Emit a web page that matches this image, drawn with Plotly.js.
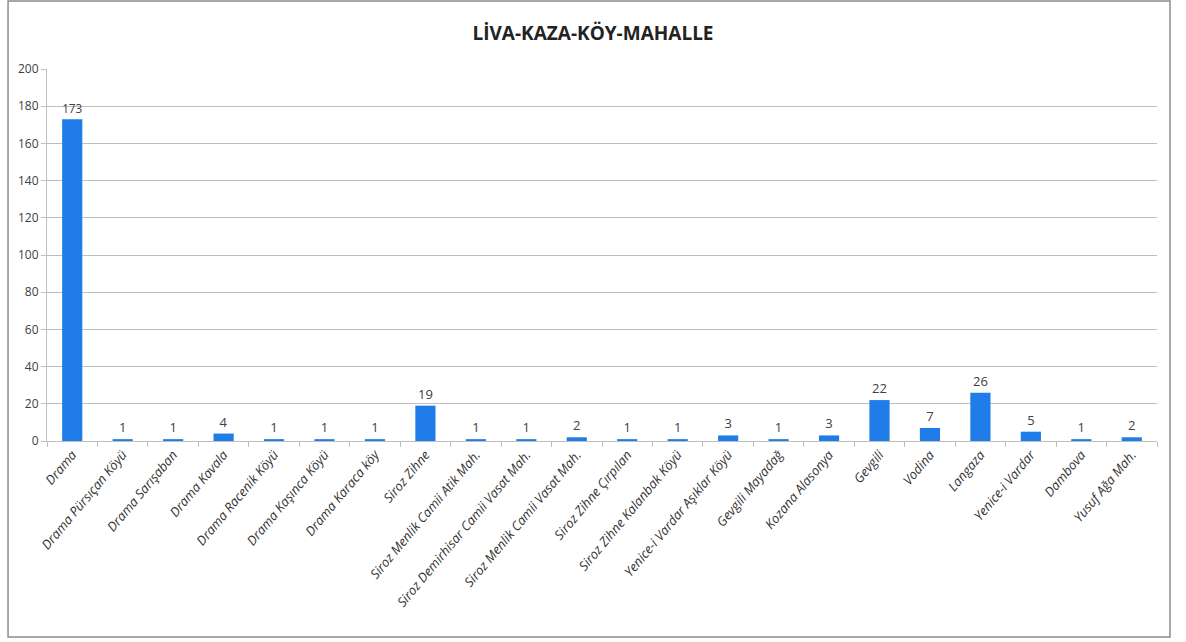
<!DOCTYPE html>
<html>
<head>
<meta charset="utf-8">
<script src="https://cdn.plot.ly/plotly-3.0.1.min.js"></script>
<style>html,body{margin:0;padding:0;background:#fff;}#chart{width:1186px;height:642px;}</style>
</head>
<body>
<div id="chart"></div>
<script>
const categories = [
  "Drama", "Drama Pürsıçan Köyü", "Drama Sarışaban", "Drama Kavala",
  "Drama Racenik Köyü", "Drama Kaşınca Köyü", "Drama Karaca köy", "Siroz Zihne",
  "Siroz Menlik Camii Atik Mah.", "Siroz Demirhisar Camii Vasat Mah.",
  "Siroz Menlik Camii Vasat Mah.", "Siroz Zihne Çırpılan", "Siroz Zihne Kalanbak Köyü",
  "Yenice-i Vardar Aşıklar Köyü", "Gevgili Mayadağ", "Kozana Alasonya", "Gevgili",
  "Vodina", "Langaza", "Yenice-i Vardar", "Dambova", "Yusuf Ağa Mah."
];
const values = [173, 1, 1, 4, 1, 1, 1, 19, 1, 1, 2, 1, 1, 3, 1, 3, 22, 7, 26, 5, 1, 2];
const yTicks = [0, 20, 40, 60, 80, 100, 120, 140, 160, 180, 200];

const trace = {
  type: 'bar',
  x: categories,
  y: values,
  text: values.map(String),
  textposition: 'outside',
  cliponaxis: false,
  textfont: {family: 'Open Sans, sans-serif', size: 13, color: '#404040'},
  marker: {color: '#1f7ce8'},
  hoverinfo: 'x+y'
};

const layout = {
  width: 1186, height: 642,
  margin: {l: 47, r: 29, t: 69, b: 201},
  paper_bgcolor: '#ffffff', plot_bgcolor: '#ffffff',
  bargap: 0.6,
  showlegend: false,
  title: {
    text: '<b>LİVA-KAZA-KÖY-MAHALLE</b>',
    font: {family: 'Open Sans, sans-serif', size: 19, color: '#222222'},
    x: 0.5, xanchor: 'center', y: 0.948, yanchor: 'middle'
  },
  font: {family: 'Open Sans, sans-serif', size: 13, color: '#404040'},
  xaxis: {
    type: 'category',
    tickangle: -50,
    tickson: 'boundaries',
    ticks: 'outside', ticklen: 5, tickcolor: '#bfbfbf',
    showline: true, linecolor: '#bfbfbf', linewidth: 1,
    showgrid: false,
    tickfont: {family: 'Open Sans, sans-serif', size: 13, color: '#333333', style: 'italic'},
    fixedrange: true
  },
  yaxis: {
    range: [0, 200],
    tickvals: yTicks,
    ticktext: yTicks.map(String),
    ticks: 'outside', ticklen: 5, tickcolor: '#bfbfbf',
    showline: true, linecolor: '#bfbfbf', linewidth: 1,
    showgrid: true, gridcolor: '#bfbfbf', gridwidth: 1,
    zeroline: false,
    tickfont: {family: 'Open Sans, sans-serif', size: 12, color: '#404040'},
    fixedrange: true
  },
  shapes: [{
    type: 'rect', xref: 'paper', yref: 'paper',
    x0: -0.0351, x1: 1.0117, y0: -0.527, y1: 1.183,
    line: {color: '#8c8c8c', width: 1.5}, fillcolor: 'rgba(0,0,0,0)', layer: 'below'
  }]
};

Plotly.newPlot('chart', [trace], layout, {displayModeBar: false, staticPlot: true});
</script>
</body>
</html>
